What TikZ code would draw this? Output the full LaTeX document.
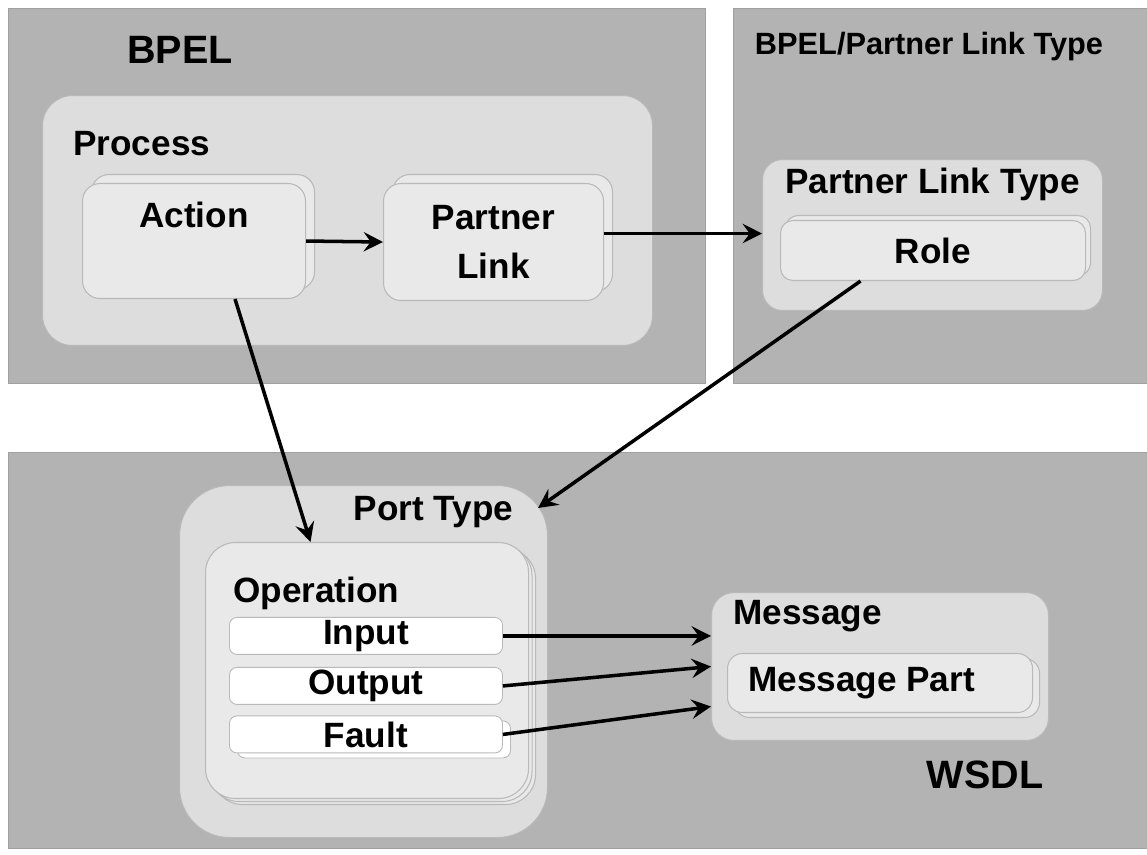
\documentclass[tikz,border=0pt]{standalone}
\usepackage{fontspec}
\setmainfont{Liberation Sans}
\usetikzlibrary{arrows.meta,positioning,calc,shadows}

\definecolor{panelgray}{RGB}{179,179,179}
\definecolor{panelline}{RGB}{160,160,160}
\definecolor{outerfill}{RGB}{221,221,221}
\definecolor{innerfill}{RGB}{233,233,233}
\definecolor{boxline}{RGB}{185,185,185}

\newcommand{\fbig}{\bfseries\fontsize{22.5}{27}\selectfont}
\newcommand{\fmid}{\bfseries\fontsize{20}{28}\selectfont}
\newcommand{\fhead}{\bfseries\fontsize{17.5}{21}\selectfont}

\begin{document}
\begin{tikzpicture}[
  panel/.style={rectangle, anchor=north west, fill=panelgray, draw=panelline,
                line width=0.6pt, inner sep=0pt},
  group/.style={rectangle, anchor=north west, fill=outerfill, draw=boxline,
                line width=0.6pt, inner sep=0pt},
  item/.style={rectangle, anchor=north west, rounded corners=0.35cm, fill=innerfill,
               draw=boxline, line width=0.6pt, inner sep=0pt, font=\fmid},
  stack/.style={copy shadow={shadow xshift=0.18cm, shadow yshift=0.18cm,
                fill=innerfill, draw=boxline, line width=0.6pt}},
  bar/.style={rectangle, anchor=north west, rounded corners=0.15cm, fill=white,
              draw=boxline, line width=0.5pt, minimum width=5.46cm,
              minimum height=0.74cm, inner sep=0pt, font=\fmid},
  title/.style={inner sep=0pt, font=\fmid},
  flow/.style={draw, line width=2pt, -{Stealth[length=11pt, width=11pt, inset=4pt]}},
]
  \fill[white] (0,0) rectangle (22.94,-17.1);
  \useasboundingbox (0,0) rectangle (22.94,-17.1);

  % panels
  \node[panel, minimum width=13.94cm, minimum height=7.5cm] (bpel) at (0.16,-0.16) {};
  \node[panel, minimum width=8.28cm, minimum height=7.5cm] (pltpanel) at (14.66,-0.16) {};
  \node[panel, minimum width=22.78cm, minimum height=7.92cm] (wsdl) at (0.16,-9.04) {};
  \node[font=\fbig] (bpeltitle) at (3.6,-1.0) {BPEL};
  \node[font=\fhead] (plttitle) at (18.58,-0.94) {BPEL/Partner Link Type};
  \node[font=\fbig] (wsdltitle) at (19.7,-15.5) {WSDL};

  % BPEL process
  \node[group, rounded corners=0.6cm, minimum width=12.2cm, minimum height=5cm] (process) at (0.84,-1.9) {};
  \node[title, anchor=west] (processtitle) at ([xshift=0.62cm, yshift=-0.98cm]process.north west) {Process};
  \node[item, stack, minimum width=4.46cm, minimum height=2.3cm] (action) at (1.64,-3.66) {};
  \node[title] (actiontitle) at ([yshift=-0.64cm]action.north) {Action};
  \node[item, stack, minimum width=4.4cm, minimum height=2.34cm, align=center] (plink) at (7.66,-3.66) {Partner\\Link};

  % partner link type
  \node[group, rounded corners=0.4cm, minimum width=6.8cm, minimum height=3.02cm] (pltbox) at (15.24,-3.18) {};
  \node[title] (pltboxtitle) at ([yshift=-0.5cm]pltbox.north) {Partner Link Type};
  \node[item, rounded corners=0.25cm, minimum width=6.1cm, minimum height=1.2cm,
        copy shadow={shadow xshift=0.1cm, shadow yshift=0.1cm, fill=innerfill, draw=boxline, line width=0.6pt}] (role) at (15.6,-4.4) {Role};

  % WSDL port type
  \node[group, rounded corners=1cm, minimum width=7.36cm, minimum height=7.04cm] (porttype) at (3.58,-9.7) {};
  \node[title] (porttypetitle) at ([xshift=1.4cm, yshift=-0.54cm]porttype.north) {Port Type};
  \node[item, rounded corners=0.6cm, minimum width=6.46cm, minimum height=5.12cm,
        copy shadow={shadow xshift=0.14cm, shadow yshift=-0.12cm, fill=innerfill, draw=boxline, line width=0.6pt},
        copy shadow={shadow xshift=0.07cm, shadow yshift=-0.06cm, fill=innerfill, draw=boxline, line width=0.6pt}] (operation) at (4.1,-10.84) {};
  \node[title, anchor=west] (operationtitle) at ([xshift=0.56cm, yshift=-1.02cm]operation.north west) {Operation};
  \node[bar] (input) at (4.58,-12.34) {Input};
  \node[bar] (output) at (4.58,-13.34) {Output};
  \node[bar, copy shadow={shadow xshift=0.16cm, shadow yshift=-0.1cm, fill=white, draw=boxline, line width=0.5pt}] (fault) at (4.58,-14.31) {Fault};

  % WSDL message
  \node[group, rounded corners=0.45cm, minimum width=6.74cm, minimum height=2.96cm] (message) at (14.22,-11.84) {};
  \node[title, anchor=west] (messagetitle) at ([xshift=0.44cm, yshift=-0.48cm]message.north west) {Message};
  \node[item, rounded corners=0.3cm, minimum width=6.1cm, minimum height=1.18cm,
        copy shadow={shadow xshift=0.14cm, shadow yshift=-0.1cm, fill=innerfill, draw=boxline, line width=0.6pt}] (mpart) at (14.54,-13.06) {};
  \node[title, anchor=west] (mparttitle) at ([xshift=0.42cm]mpart.west) {Message Part};

  % connectors
  \draw[flow] (action.east) -- (plink.west);
  \draw[flow] ([yshift=0.17cm]plink.east) -- ([yshift=0.17cm]plink.east -| pltbox.west);
  \draw[flow] ([xshift=0.82cm]action.south) -- ([xshift=-1.13cm]operation.north);
  \draw[flow] ([xshift=-1.45cm]role.south) -- ([xshift=-0.2cm, yshift=-0.46cm]porttype.north east);
  \draw[flow] (input.east) -- (input.east -| message.west);
  \draw[flow] (output.east) -- (message.west);
  \draw[flow] (fault.east) -- ([yshift=-0.8cm]message.west);
\end{tikzpicture}
\end{document}
